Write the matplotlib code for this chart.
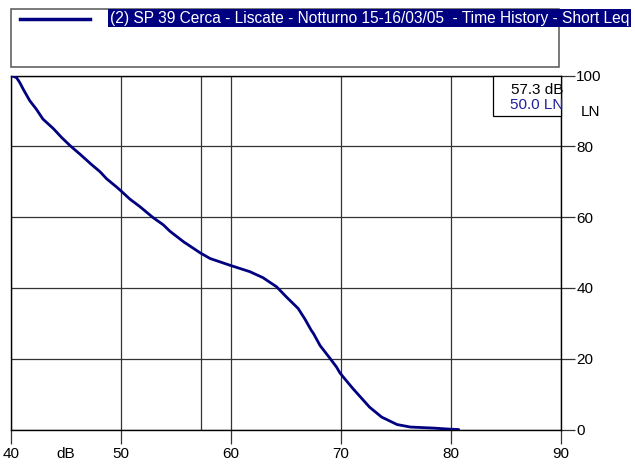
import matplotlib.pyplot as plt
from matplotlib.patches import Rectangle
from matplotlib.lines import Line2D

plt.rcParams['font.family'] = ['Liberation Sans', 'DejaVu Sans']
plt.rcParams['font.size'] = 11

# cumulative level curve
db = [40.0, 40.5, 40.8, 41.1, 41.7, 42.3, 42.9, 43.85, 44.6, 45.4, 46.3, 47.3,
      48.1, 48.7, 49.6, 50.0, 50.8, 51.7, 52.9, 53.85, 54.45, 55.7, 57.2,
      58.1, 59.9, 61.7, 62.9, 64.15, 65.05, 66.1, 66.7, 67.3, 67.5, 68.1, 68.5,
      69.0, 69.6, 69.9, 70.4, 71.1, 72.6, 73.7, 75.1, 76.3, 78.4, 79.9, 80.7]
ln = [100.0, 99.4, 98.0, 96.2, 92.9, 90.5, 87.7, 85.0, 82.5, 80.1, 77.7, 74.9,
      72.8, 70.8, 68.5, 67.4, 65.1, 63.0, 59.9, 57.8, 56.0, 53.0, 49.9,
      48.3, 46.4, 44.6, 42.9, 40.3, 37.4, 34.2, 31.3, 28.0, 27.1, 23.7, 22.1,
      20.1, 17.6, 16.0, 14.1, 11.5, 6.3, 3.5, 1.4, 0.7, 0.4, 0.1, 0.0]
xticks = [40, 50, 60, 70, 80, 90]
yticks = [0, 20, 40, 60, 80, 100]
cursor_db = 57.3
cursor_ln = 50.0
series_name = "(2) SP 39 Cerca - Liscate - Notturno 15-16/03/05  - Time History - Short Leq"

W, H = 635, 465
fig = plt.figure(figsize=(W / 100, H / 100), dpi=100)
ax = fig.add_axes([11 / W, (H - 429.5) / H, 550 / W, 354 / H])

navy = '#000080'
ax.plot(db, ln, color=navy, lw=2.0, zorder=3, solid_capstyle='round')
ax.axvline(cursor_db, color='#333333', lw=0.9, zorder=1)

ax.set_xlim(40, 90)
ax.set_ylim(0, 100)
ax.set_xticks(xticks)
ax.set_yticks(yticks)
ax.grid(True, color='#333333', lw=0.9)
for s in ax.spines.values():
    s.set_color('black')
    s.set_linewidth(1.0)

ax.yaxis.tick_right()
ax.tick_params(axis='x', direction='out', length=10, width=0.9, color='#333333',
               labelsize=11, pad=2.5)
ax.tick_params(axis='y', direction='out', length=10, width=0.9, color='#333333',
               labelsize=11, pad=1)

# axis unit labels
ax.annotate('dB', xy=(45, 0), xycoords=('data', 'axes fraction'),
            xytext=(0, -12.5), textcoords='offset points', ha='center', va='top')
ax.yaxis.set_label_position('right')
ax.set_ylabel('LN', rotation=0, ha='center', va='center')
ax.yaxis.set_label_coords(1.0545, 0.897)

# cursor readout box
ax.add_patch(Rectangle((0.877, 0.886), 0.123, 0.114, transform=ax.transAxes,
                       fc='white', ec='black', lw=0.9, clip_on=False, zorder=4))
ax.text(1.004, 0.958, f"{cursor_db:.1f} dB", transform=ax.transAxes,
        ha='right', va='center', color='black', zorder=5)
ax.text(1.004, 0.918, f"{cursor_ln:.1f} LN", transform=ax.transAxes,
        ha='right', va='center', color='#1f1f9f', zorder=5)

# legend box on top
fig.add_artist(Rectangle((11 / W, 1 - 66.7 / H), 548 / W, 57.7 / H,
                         transform=fig.transFigure, fc='white', ec='#555555', lw=1.1))
fig.add_artist(Line2D([20 / W, 90 / W], [1 - 19 / H] * 2, transform=fig.transFigure,
                      color=navy, lw=2.5))
fig.text(110 / W, 1 - 18 / H, series_name, color='white', ha='left', va='center',
         fontsize=11.2, bbox=dict(boxstyle='square,pad=0.1', fc=navy, ec='none'))

fig.savefig('out.png', dpi=100)
